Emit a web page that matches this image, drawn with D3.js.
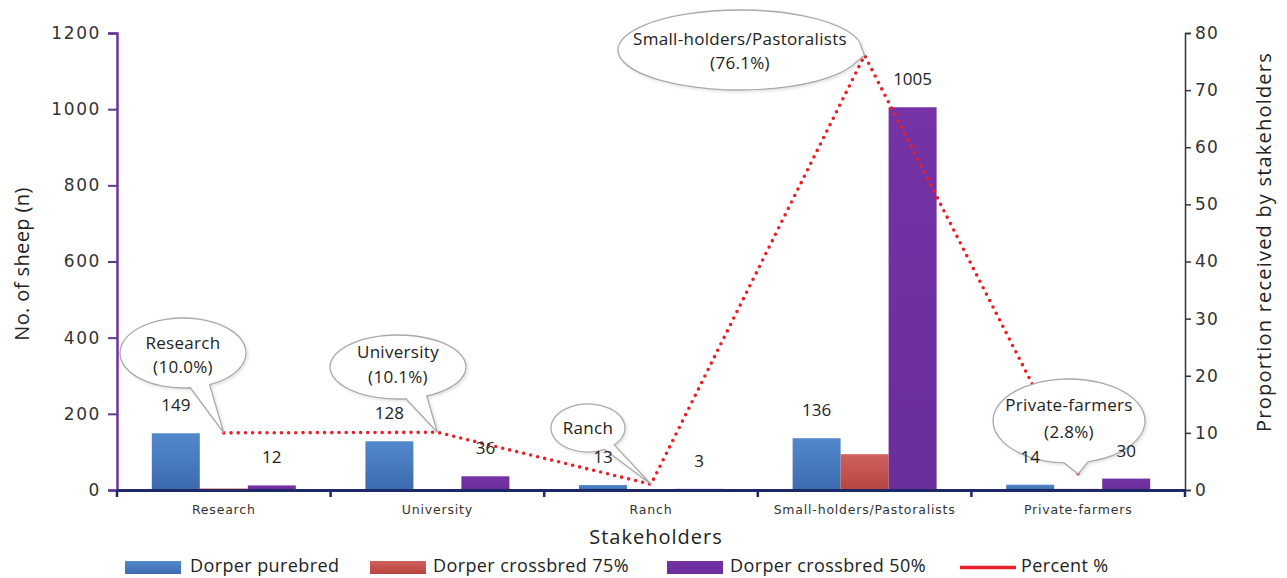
<!DOCTYPE html>
<html>
<head>
<meta charset="utf-8">
<script src="https://cdn.jsdelivr.net/npm/d3@7"></script>
<style>
  html, body { margin: 0; padding: 0; background: #fff; }
  svg { display: block; }
</style>
</head>
<body>
<svg id="chart" width="1287" height="578"></svg>
<script>
// Sheep distributed per stakeholder group
const categories = ["Research", "University", "Ranch", "Small-holders/Pastoralists", "Private-farmers"];
const purebred    = [149, 128, 13, 136, 14];
const crossbred75 = [4, 0, 0, 94, 3];
const crossbred50 = [12, 36, 3, 1005, 30];
const percent     = [10.0, 10.1, 1.0, 76.1, 2.8];
const seriesNames = ["Dorper purebred", "Dorper crossbred 75%", "Dorper crossbred 50%"];
const lineName = "Percent %";
const leftTicks  = [0, 200, 400, 600, 800, 1000, 1200];
const rightTicks = [0, 10, 20, 30, 40, 50, 60, 70, 80];
// which callouts also print the share
const calloutShowsPct = [true, true, false, true, true];

const svg = d3.select("#chart");
const plot = { left: 117, right: 1185, top: 33, bottom: 490 };

const defs = svg.append("defs");
const grads = [["#5289cc", "#3d6aaf"], ["#d0615d", "#b8443f"], ["#7533a6", "#6a2d99"]];
grads.forEach((g, i) => {
  const lg = defs.append("linearGradient").attr("id", "g" + i)
    .attr("x1", 0).attr("y1", 0).attr("x2", 0).attr("y2", 1);
  lg.append("stop").attr("offset", "0%").attr("stop-color", g[0]);
  lg.append("stop").attr("offset", "100%").attr("stop-color", g[1]);
});
const shadow = defs.append("filter").attr("id", "shadow")
  .attr("x", "-20%").attr("y", "-20%").attr("width", "140%").attr("height", "140%");
shadow.append("feDropShadow").attr("dx", 1.5).attr("dy", 1.5).attr("stdDeviation", 1.5)
  .attr("flood-color", "#000").attr("flood-opacity", 0.12);

const x = d3.scaleBand().domain(categories).range([plot.left, plot.right]).padding(0);
const xSub = d3.scaleBand().domain(seriesNames).range([0, x.bandwidth()])
  .paddingInner(0).paddingOuter(0.725);
const y = d3.scaleLinear().domain([0, 1200]).range([plot.bottom, plot.top]);
const yR = d3.scaleLinear().domain([0, 80]).range([plot.bottom, plot.top]);

const seriesValues = [purebred, crossbred75, crossbred50];

// bars
const groups = svg.append("g").selectAll("g").data(categories).join("g")
  .attr("transform", d => `translate(${x(d)},0)`);
groups.each(function (cat, ci) {
  d3.select(this).selectAll("rect").data(seriesNames).join("rect")
    .attr("x", s => xSub(s))
    .attr("width", xSub.bandwidth())
    .attr("y", (s, si) => y(seriesValues[si][ci]))
    .attr("height", (s, si) => y(0) - y(seriesValues[si][ci]))
    .attr("fill", (s, si) => `url(#g${si})`);
});

// left axis
const axL = svg.append("g").attr("transform", `translate(${plot.left},0)`)
  .call(d3.axisLeft(y).tickValues(leftTicks).tickFormat(d3.format("d")).tickSize(9).tickPadding(7));
axL.select(".domain").attr("stroke", "#7030a0").attr("stroke-width", 2.5);
axL.selectAll(".tick line").attr("stroke", "#5b3a8a").attr("stroke-width", 2);
axL.selectAll(".tick text").attr("font-family", "DejaVu Sans").attr("font-size", 17)
  .attr("fill", "#333").attr("letter-spacing", 1.6);

// right axis
const axR = svg.append("g").attr("transform", `translate(${plot.right},0)`)
  .call(d3.axisRight(yR).tickValues(rightTicks).tickSize(6).tickPadding(4));
axR.select(".domain").attr("stroke", "#333").attr("stroke-width", 1.5);
axR.selectAll(".tick line").attr("stroke", "#333").attr("stroke-width", 1.5);
axR.selectAll(".tick text").attr("font-family", "DejaVu Sans").attr("font-size", 17)
  .attr("fill", "#333").attr("letter-spacing", 1.2);

// category axis
const axB = svg.append("g").attr("transform", `translate(0,${plot.bottom})`)
  .call(d3.axisBottom(x).tickSize(0).tickPadding(15));
axB.select(".domain").attr("stroke", "#1c2868").attr("stroke-width", 3);
axB.selectAll(".tick text").attr("font-family", "DejaVu Sans").attr("font-size", 12.5)
  .attr("fill", "#333").attr("letter-spacing", 0.8);
const bounds = categories.map(c => x(c)).concat([plot.right]);
axB.selectAll(".sep").data(bounds).join("line").attr("class", "sep")
  .attr("x1", d => d).attr("x2", d => d).attr("y1", 0).attr("y2", 7)
  .attr("stroke", "#1c2868").attr("stroke-width", 2.5);

// axis titles
svg.append("text").attr("transform", "translate(22,264) rotate(-90)")
  .attr("dy", "0.35em").attr("text-anchor", "middle").attr("font-family", "Open Sans")
  .attr("font-size", 20).attr("letter-spacing", 0.4)
  .attr("fill", "#222").text("No. of sheep (n)");
svg.append("text").attr("transform", "translate(1264,242) rotate(-90)")
  .attr("dy", "0.35em").attr("text-anchor", "middle").attr("font-family", "Open Sans")
  .attr("font-size", 20).attr("letter-spacing", 1.2)
  .attr("fill", "#222").text("Proportion received by stakeholders");
svg.append("text").attr("x", 656).attr("y", 544)
  .attr("text-anchor", "middle").attr("font-family", "Open Sans").attr("font-size", 20)
  .attr("letter-spacing", 1).attr("fill", "#222").text("Stakeholders");

// percent line
const cx = c => x(c) + x.bandwidth() / 2;
const line = d3.line().x((d, i) => cx(categories[i])).y(d => yR(d));
svg.append("path").datum(percent).attr("d", line)
  .attr("fill", "none").attr("stroke", "#e8202a").attr("stroke-width", 3.6)
  .attr("stroke-linecap", "round").attr("stroke-dasharray", "0 7.2");

// callouts: ellipse bubble with a wedge pointing at the line point
const bubbleLayout = [
  { cx: 183, cy: 353, rx: 63, ry: 35, lines: [343, 367] },
  { cx: 398, cy: 367, rx: 68, ry: 32, lines: [352, 377] },
  { cx: 588, cy: 428, rx: 37, ry: 24, lines: [428] },
  { cx: 740, cy: 50,  rx: 122, ry: 40, lines: [39, 63] },
  { cx: 1069, cy: 421, rx: 76, ry: 42, lines: [405, 432] }
];
function bubblePath(b, tx, ty) {
  const t0 = Math.atan2((ty - b.cy) / b.ry, (tx - b.cx) / b.rx);
  const dl = 0.16;
  const p = t => [b.cx + b.rx * Math.cos(t), b.cy + b.ry * Math.sin(t)];
  const a = p(t0 + dl), c = p(t0 - dl);
  return `M${a[0]},${a[1]} A${b.rx},${b.ry} 0 1 1 ${c[0]},${c[1]} L${tx},${ty} Z`;
}
const callouts = svg.append("g");
categories.forEach((cat, i) => {
  const b = bubbleLayout[i];
  const tx = cx(cat), ty = yR(percent[i]);
  callouts.append("path").attr("d", bubblePath(b, tx, ty))
    .attr("fill", "#fff").attr("stroke", "#a9a9a9").attr("stroke-width", 1.3)
    .attr("filter", "url(#shadow)");
  const texts = calloutShowsPct[i] ? [cat, `(${percent[i].toFixed(1)}%)`] : [cat];
  texts.forEach((t, k) => {
    callouts.append("text").attr("x", b.cx).attr("y", b.lines[k])
      .attr("dy", "0.35em").attr("text-anchor", "middle")
      .attr("font-family", "Open Sans").attr("font-size", 17).attr("letter-spacing", 0.3)
      .attr("fill", "#222").text(t);
  });
});

// value labels for purebred and crossbred 50%
const labelled = [0, 2];
const labels = svg.append("g");
labelled.forEach(si => {
  categories.forEach((cat, ci) => {
    const v = seriesValues[si][ci];
    labels.append("text")
      .attr("x", x(cat) + xSub(seriesNames[si]) + xSub.bandwidth() / 2)
      .attr("y", y(v) - 28).attr("dy", "0.35em").attr("text-anchor", "middle")
      .attr("font-family", "Open Sans").attr("font-size", 17).attr("fill", "#222")
      .text(v);
  });
});

// legend
const legend = svg.append("g").attr("font-family", "Open Sans").attr("font-size", 18)
  .attr("letter-spacing", 0.4).attr("fill", "#222");
const legendItems = [
  { name: seriesNames[0], x: 125, text: 190 },
  { name: seriesNames[1], x: 370, text: 433 },
  { name: seriesNames[2], x: 667, text: 730 },
  { name: lineName, x: 960, text: 1021 }
];
legendItems.forEach((d, i) => {
  if (i < 3) {
    legend.append("rect").attr("x", d.x).attr("y", 561).attr("width", 56).attr("height", 13)
      .attr("fill", `url(#g${i})`);
  } else {
    legend.append("line").attr("x1", d.x).attr("x2", d.x + 56).attr("y1", 567.5).attr("y2", 567.5)
      .attr("stroke", "#e8202a").attr("stroke-width", 3.5);
  }
  legend.append("text").attr("x", d.text).attr("y", 566).attr("dy", "0.35em").text(d.name);
});
</script>
</body>
</html>
